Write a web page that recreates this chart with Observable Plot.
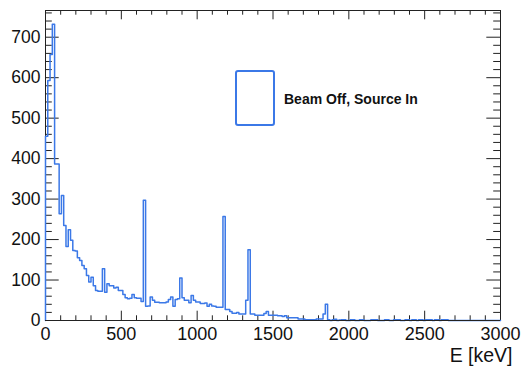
<!DOCTYPE html>
<html><head><meta charset="utf-8">
<script src="https://cdn.jsdelivr.net/npm/d3@7"></script>
<script src="https://cdn.jsdelivr.net/npm/@observablehq/plot@0.6"></script>
<style>
body{margin:0;background:#fff;}
#wrap{position:relative;width:522px;height:374px;font-family:"Liberation Sans",Arial,sans-serif;}
#legend-box{position:absolute;left:235px;top:70px;width:36px;height:52px;border:2.5px solid #3b78e7;border-radius:3px;box-sizing:content-box;}
#legend-text{position:absolute;left:284px;top:90px;font-weight:bold;font-size:14px;line-height:18px;color:#111;white-space:nowrap;}
</style></head>
<body><div id="wrap"></div>
<script>
// Histogram: energy bins of 15 keV from 0 to 3000 keV
const binWidth = 15;
const counts = [
  455,593,657,732,387,387,264,309,235,183,224,198,173,172,155,148,136,128,111,95,
  107,86,74,72,72,128,70,91,86,86,80,82,74,74,64,56,54,55,64,56,
  55,55,47,297,35,36,58,50,45,45,44,44,44,46,52,58,35,52,54,105,
  56,50,50,44,62,50,46,46,42,42,43,35,40,36,35,33,33,33,257,27,
  27,22,18,18,20,16,16,16,50,175,16,16,13,13,13,13,17,22,13,13,
  13,13,12,12,10,12,7,7,7,7,7,4,4,4,2,2,2,2,2,4,
  4,4,16,40,2,0,2,3,0,1,2,2,0,0,2,2,0,0,2,2,
  0,0,0,2,2,2,0,0,0,2,2,0,0,2,2,2,0,0,2,2,
  0,2,2,0,2,2,0,2,2,2,0,2,2,0,2,2,2,0,0,0,
  0,0,0,0,0,0,0,0,0,0,0,0,0,0,0,0,0,0,0,0
];
const xTickLabels = [0,500,1000,1500,2000,2500,3000];
const yTickLabels = [0,100,200,300,400,500,600,700];
const xDomain = [0, 3000];
const yDomain = [0, 766];
const legendLabel = "Beam Off, Source In";
const xTitle = "E [keV]";

const W = 522, H = 374;
const mL = 45, mR = 22, mT = 10, mB = 54;
const color = "#3b78e7";
const axisColor = "#222";

// step outline points built from bins
const pts = [{x: 0, y: 0}];
counts.forEach((c, i) => pts.push({x: i * binWidth, y: c}));
pts.push({x: counts.length * binWidth, y: counts[counts.length - 1]});

// tick lengths in px converted to data units
const kx = (xDomain[1] - xDomain[0]) / (W - mL - mR);
const ky = (yDomain[1] - yDomain[0]) / (H - mT - mB);
const yMajLen = 13.7 * kx, yMinLen = 6.8 * kx;
const xMajLen = 9.3 * ky, xMinLen = 4.7 * ky;
const xMinor = d3.range(0, 3001, 100).filter(v => !xTickLabels.includes(v));
const yMinor = d3.range(0, 767, 20).filter(v => !yTickLabels.includes(v));

const plot = Plot.plot({
  width: W, height: H,
  marginLeft: mL, marginRight: mR, marginTop: mT, marginBottom: mB,
  x: {domain: xDomain},
  y: {domain: yDomain},
  style: {fontFamily: "Liberation Sans, Arial, sans-serif", color: "#111", background: "#fff"},
  marks: [
    Plot.frame({stroke: axisColor, strokeWidth: 1}),
    // left ticks
    Plot.ruleY(yTickLabels, {y: d => d, x1: xDomain[0], x2: xDomain[0] + yMajLen, stroke: axisColor}),
    Plot.ruleY(yMinor, {y: d => d, x1: xDomain[0], x2: xDomain[0] + yMinLen, stroke: axisColor}),
    // right ticks
    Plot.ruleY(yTickLabels, {y: d => d, x1: xDomain[1] - yMajLen, x2: xDomain[1], stroke: axisColor}),
    Plot.ruleY(yMinor, {y: d => d, x1: xDomain[1] - yMinLen, x2: xDomain[1], stroke: axisColor}),
    // bottom ticks
    Plot.ruleX(xTickLabels, {x: d => d, y1: yDomain[0], y2: yDomain[0] + xMajLen, stroke: axisColor}),
    Plot.ruleX(xMinor, {x: d => d, y1: yDomain[0], y2: yDomain[0] + xMinLen, stroke: axisColor}),
    // top ticks
    Plot.ruleX(xTickLabels, {x: d => d, y1: yDomain[1] - xMajLen, y2: yDomain[1], stroke: axisColor}),
    Plot.ruleX(xMinor, {x: d => d, y1: yDomain[1] - xMinLen, y2: yDomain[1], stroke: axisColor}),
    // histogram
    Plot.line(pts, {x: "x", y: "y", curve: "step-after", stroke: color, strokeWidth: 1.5}),
    Plot.ruleY([0], {stroke: axisColor, strokeWidth: 1}),
    Plot.axisX(xTickLabels, {tickSize: 0, tickPadding: 7, fontSize: 18, tickFormat: d3.format("d"), label: null}),
    Plot.axisY(yTickLabels, {tickSize: 0, tickPadding: 5, fontSize: 17.5, tickFormat: d3.format("d"), label: null}),
    Plot.text([xTitle], {text: d => d, frameAnchor: "bottom-right", dx: 12, dy: 41, textAnchor: "end", fontSize: 19.5, fill: "#111"})
  ]
});
const wrap = document.getElementById("wrap");
wrap.appendChild(plot);
const box = document.createElement("div");
box.id = "legend-box";
wrap.appendChild(box);
const lt = document.createElement("div");
lt.id = "legend-text";
lt.textContent = legendLabel;
wrap.appendChild(lt);
</script>
</body></html>
